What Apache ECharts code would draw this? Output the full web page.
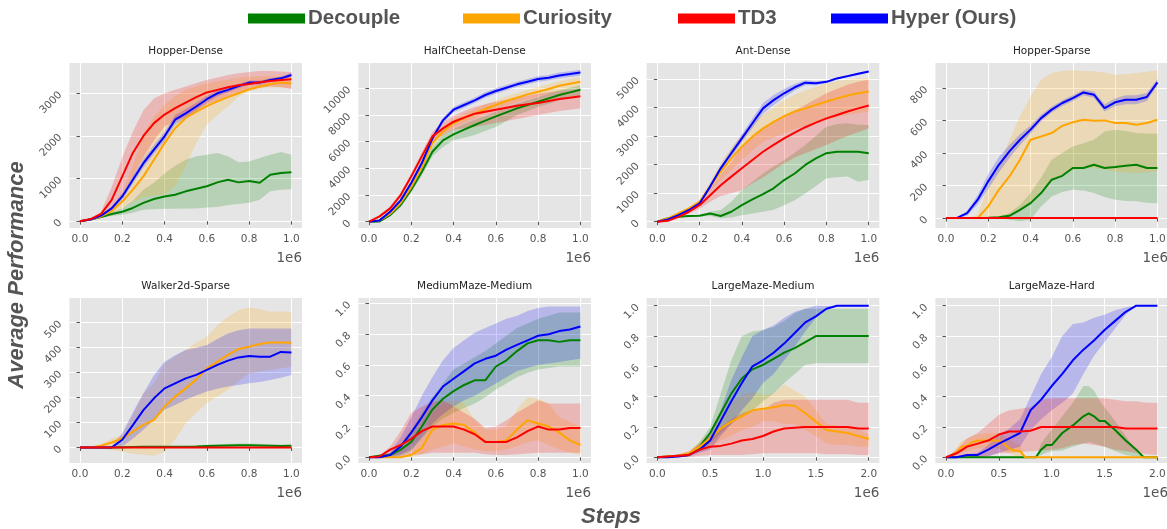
<!DOCTYPE html>
<html><head><meta charset="utf-8">
<script src="https://cdn.jsdelivr.net/npm/echarts@6/dist/echarts.min.js"></script>
<style>html,body{margin:0;padding:0;background:#fff}#c{width:1167px;height:529px}</style>
</head><body><div id="c"></div>
<script>
// ---------------- DATA ----------------
const methods = ['Decouple', 'Curiosity', 'TD3', 'Hyper (Ours)'];
const panelTitles = ['Hopper-Dense', 'HalfCheetah-Dense', 'Ant-Dense', 'Hopper-Sparse',
                     'Walker2d-Sparse', 'MediumMaze-Medium', 'LargeMaze-Medium', 'LargeMaze-Hard'];
const steps1M = [0,0.05,0.1,0.15,0.2,0.25,0.3,0.35,0.4,0.45,0.5,0.55,0.6,0.65,0.7,0.75,0.8,0.85,0.9,0.95,1.0];
const steps2M = [0,0.1,0.2,0.3,0.4,0.5,0.6,0.7,0.8,0.9,1.0,1.1,1.2,1.3,1.4,1.5,1.6,1.7,1.8,1.9,2.0];
const xTicks1M = [0, 0.2, 0.4, 0.6, 0.8, 1.0];
const xTicks2M = [0, 0.5, 1.0, 1.5, 2.0];
const yTicksHopperDense = [0, 1000, 2000, 3000];
const yTicksHalfCheetah = [0, 2000, 4000, 6000, 8000, 10000];
const yTicksAnt = [0, 1000, 2000, 3000, 4000, 5000];
const yTicksHopperSparse = [0, 200, 400, 600, 800];
const yTicksWalker = [0, 100, 200, 300, 400, 500];
const yTicksMaze = [0, 0.2, 0.4, 0.6, 0.8, 1.0];

// Hopper-Dense
const hdDec   = [0,40,100,170,220,310,430,520,580,620,700,760,820,910,970,910,940,900,1090,1130,1150];
const hdDecLo = [0,30,80,120,150,200,270,280,290,290,300,300,320,330,380,400,430,500,700,740,750];
const hdDecHi = [0,50,120,220,300,480,740,900,1120,1300,1440,1520,1560,1600,1520,1380,1400,1480,1560,1620,1560];
const hdCur   = [0,40,110,240,460,740,1050,1440,1830,2180,2420,2570,2700,2810,2910,3000,3090,3160,3210,3250,3230];
const hdCurLo = [0,30,90,180,300,450,560,600,620,820,1290,1830,2260,2490,2690,2920,3050,3120,3140,3130,3120];
const hdCurHi = [0,50,130,300,700,1300,2060,2450,2730,2930,3080,3160,3230,3280,3320,3360,3390,3400,3400,3400,3390];
const hdTd3   = [0,50,170,500,1050,1600,2000,2300,2500,2650,2780,2910,3020,3080,3140,3190,3220,3260,3290,3310,3330];
const hdTd3Lo = [0,40,120,300,650,1050,1500,1900,2220,2350,2450,2600,2730,2830,2920,3000,3080,3130,3160,3150,3100];
const hdTd3Hi = [0,60,220,800,1500,2100,2600,2880,3000,3080,3160,3240,3310,3370,3430,3470,3500,3520,3520,3510,3500];
const hdHyp   = [0,40,130,300,580,970,1360,1680,1990,2380,2530,2690,2860,3000,3080,3170,3250,3250,3310,3350,3430];
const hdHypLo = [0,30,110,250,500,880,1260,1580,1880,2270,2430,2600,2780,2930,3020,3120,3200,3200,3270,3310,3380];
const hdHypHi = [0,50,150,350,660,1060,1460,1780,2100,2490,2630,2780,2940,3070,3140,3220,3300,3300,3350,3390,3480];

// HalfCheetah-Dense
const hcDec   = [0,20,500,1250,2400,3750,5250,6100,6550,6900,7250,7580,7900,8200,8500,8750,9000,9250,9500,9700,9900];
const hcDecLo = [0,10,400,1100,2200,3450,4900,5600,6100,6300,6500,6800,7100,7550,8000,8300,8600,8850,9100,9300,9500];
const hcDecHi = [0,30,600,1400,2600,4050,5600,6500,6950,7300,7650,7950,8250,8550,8850,9100,9350,9600,9850,10050,10250];
const hcCur   = [0,100,600,1400,2600,4100,5900,6750,7400,7750,8100,8450,8750,9050,9300,9550,9750,9950,10200,10350,10500];
const hcCurLo = [0,50,500,1250,2400,3850,5600,6450,7050,7400,7750,8100,8400,8700,8950,9200,9400,9600,9800,9950,10100];
const hcCurHi = [0,150,700,1550,2800,4350,6200,7100,7750,8100,8450,8800,9100,9400,9650,9900,10100,10300,10550,10700,10850];
const hcTd3   = [0,400,1000,2000,3400,4900,6400,7000,7500,7800,8100,8250,8400,8550,8700,8800,8900,9050,9200,9300,9400];
const hcTd3Lo = [0,300,850,1800,3150,4600,6000,6500,6900,7000,7100,7250,7400,7550,7700,7850,8000,8150,8300,8400,8500];
const hcTd3Hi = [0,500,1150,2200,3650,5200,6750,7450,7950,8300,8600,8800,9000,9150,9300,9450,9600,9700,9800,9900,10000];
const hcHyp   = [0,100,750,1600,2900,4400,6250,7600,8400,8750,9100,9500,9800,10050,10300,10500,10700,10800,10970,11070,11180];
const hcHypLo = [0,50,650,1450,2700,4200,6050,7400,8200,8550,8900,9300,9600,9850,10100,10300,10500,10600,10750,10850,10950];
const hcHypHi = [0,150,850,1750,3100,4600,6450,7800,8600,8950,9300,9700,10000,10250,10500,10700,10900,11000,11180,11280,11400];

// Ant-Dense
const adDec   = [0,120,170,200,210,290,200,350,580,780,970,1170,1460,1690,1990,2220,2400,2450,2450,2450,2400];
const adDecLo = [0,100,150,170,180,200,120,150,230,290,350,420,580,750,990,1250,1520,1560,1580,1400,1460];
const adDecHi = [0,140,190,230,240,350,410,700,1100,1400,1690,1930,2160,2420,2690,3000,3330,3420,3450,3400,3390];
const adCur   = [0,120,290,470,700,1230,1750,2220,2630,2980,3270,3500,3700,3860,3970,4090,4210,4320,4420,4500,4560];
const adCurLo = [0,100,250,420,620,1050,1450,1800,2160,2500,2800,2950,3100,3250,3350,3460,3560,3660,3750,3800,3860];
const adCurHi = [0,140,330,520,780,1400,2050,2600,3050,3450,3750,4000,4260,4450,4600,4720,4850,4920,4980,5020,5020];
const adTd3   = [0,30,170,350,580,930,1280,1580,1870,2160,2450,2690,2920,3120,3310,3470,3620,3740,3860,3970,4070];
const adTd3Lo = [0,20,130,280,450,700,900,1000,1100,1350,1550,1800,2040,2250,2400,2550,2690,2850,3000,3130,3270];
const adTd3Hi = [0,40,210,420,700,1150,1650,2100,2630,2950,3250,3480,3680,3900,4100,4300,4500,4650,4800,4900,4970];
const adHyp   = [0,80,230,410,640,1230,1870,2400,2920,3450,3970,4260,4500,4710,4870,4850,4900,5020,5100,5180,5260];
const adHypLo = [0,60,200,370,590,1150,1770,2280,2780,3280,3780,4080,4350,4600,4780,4780,4850,4980,5060,5140,5220];
const adHypHi = [0,100,260,450,690,1310,1970,2520,3060,3620,4160,4440,4650,4820,4960,4920,4950,5060,5140,5220,5300];

// Hopper-Sparse
const hsDec   = [0,0,0,0,2,5,14,51,92,154,236,260,308,308,328,308,314,322,328,308,308];
const hsDecLo = [0,0,0,0,0,0,-10,-20,-10,72,133,160,174,170,154,130,113,105,103,95,92];
const hsDecHi = [0,0,0,0,5,10,31,80,154,250,359,400,441,460,482,533,544,535,523,520,519];
const hsCur   = [0,0,0,0,72,174,256,359,482,502,523,568,589,605,599,601,585,585,574,585,605];
const hsCurLo = [0,0,0,0,0,5,10,40,92,174,236,270,297,305,308,300,287,280,277,282,287];
const hsCurHi = [0,0,0,20,195,318,482,626,749,851,892,905,909,905,903,895,882,885,892,900,909];
const hsTd3   = [0,0,0,0,0,0,0,0,0,0,0,0,0,0,0,0,0,0,0,0,0];
const hsTd3Lo = [0,0,0,0,0,0,0,0,0,0,0,0,0,0,0,0,0,0,0,0,0];
const hsTd3Hi = [0,0,0,0,0,0,0,0,0,0,0,0,0,0,0,0,0,0,0,0,0];
const hsHyp   = [0,0,31,113,226,328,410,482,544,615,667,708,738,773,759,677,712,728,728,745,835];
const hsHypLo = [0,0,15,85,180,280,370,450,520,595,650,690,720,755,740,655,690,700,700,720,815];
const hsHypHi = [0,0,45,140,270,375,450,515,570,635,685,725,756,790,778,700,735,755,755,770,855];

// Walker2d-Sparse
const wsDec   = [0,0,0,0,1,2,3,3,3,3,3,4,6,7,8,9,9,8,7,6,7];
const wsDecLo = [0,0,0,0,0,0,0,0,0,0,0,0,0,0,0,0,0,0,0,0,0];
const wsDecHi = [0,0,0,0,3,5,6,6,6,6,6,8,11,13,15,16,16,15,13,11,12];
const wsCur   = [0,0,7,20,37,64,91,111,164,204,237,273,317,344,371,395,404,415,421,421,420];
const wsCurLo = [0,0,-5,-10,-16,-25,-29,-33,-16,31,97,140,177,205,231,265,297,305,311,318,324];
const wsCurHi = [0,0,15,35,51,130,217,257,337,365,391,420,444,490,524,550,561,555,544,545,544];
const wsTd3   = [0,0,0,0,0,0,0,0,0,0,0,0,0,0,0,0,0,0,0,0,0];
const wsTd3Lo = [0,0,0,0,0,0,0,0,0,0,0,0,0,0,0,0,0,0,0,0,0];
const wsTd3Hi = [0,0,0,0,0,0,0,0,0,0,0,0,0,0,0,0,0,0,0,0,0];
const wsHyp   = [0,0,0,0,31,90,150,197,237,257,277,291,311,331,348,361,367,364,364,383,381];
const wsHypLo = [0,0,0,0,4,35,71,110,151,170,191,208,224,235,244,250,257,262,271,280,291];
const wsHypHi = [0,0,0,5,57,140,217,290,344,370,391,400,411,435,457,470,477,477,477,477,477];

// MediumMaze-Medium
const mmDec   = [0,0.01,0.015,0.05,0.1,0.2,0.31,0.38,0.43,0.47,0.5,0.5,0.59,0.63,0.69,0.74,0.76,0.76,0.75,0.76,0.76];
const mmDecLo = [0,0,0,0.01,0.04,0.12,0.2,0.25,0.29,0.32,0.35,0.39,0.44,0.48,0.52,0.55,0.57,0.58,0.59,0.59,0.59];
const mmDecHi = [0,0.02,0.03,0.09,0.18,0.29,0.39,0.48,0.57,0.61,0.65,0.69,0.74,0.79,0.84,0.87,0.9,0.92,0.94,0.94,0.94];
const mmCur   = [0,0,0,0,0.015,0.06,0.18,0.21,0.22,0.21,0.16,0.1,0.1,0.11,0.18,0.24,0.22,0.2,0.16,0.11,0.08];
const mmCurLo = [0,0,0,0,0,0.02,0.05,0.07,0.09,0.07,0.05,0.04,0.04,0.05,0.07,0.1,0.11,0.08,0.05,0.03,0.015];
const mmCurHi = [0,0,0,0,0.03,0.12,0.29,0.35,0.37,0.35,0.24,0.18,0.18,0.2,0.31,0.39,0.38,0.35,0.26,0.23,0.2];
const mmTd3   = [0,0.005,0.05,0.08,0.12,0.17,0.2,0.2,0.2,0.18,0.15,0.1,0.1,0.1,0.13,0.17,0.2,0.18,0.18,0.19,0.19];
const mmTd3Lo = [0,0,0,0.005,0.015,0.02,0.03,0.03,0.03,0.03,0.03,0.02,0.015,0.015,0.02,0.025,0.03,0.03,0.03,0.03,0.03];
const mmTd3Hi = [0,0.01,0.07,0.17,0.29,0.33,0.36,0.37,0.33,0.29,0.25,0.19,0.2,0.24,0.29,0.33,0.37,0.35,0.35,0.35,0.35];
const mmHyp   = [0,0,0.015,0.07,0.16,0.26,0.37,0.46,0.51,0.56,0.61,0.64,0.66,0.7,0.73,0.76,0.79,0.8,0.82,0.83,0.85];
const mmHypLo = [0,0,0.005,0.02,0.05,0.13,0.22,0.28,0.33,0.37,0.4,0.44,0.48,0.52,0.56,0.58,0.6,0.61,0.62,0.63,0.64];
const mmHypHi = [0,0,0.03,0.13,0.26,0.4,0.52,0.63,0.71,0.76,0.81,0.84,0.87,0.9,0.92,0.95,0.97,0.98,0.98,0.98,0.98];

// LargeMaze-Medium
const lmDec   = [0,0.005,0.01,0.015,0.07,0.16,0.29,0.42,0.52,0.58,0.61,0.65,0.69,0.72,0.76,0.8,0.8,0.8,0.8,0.8,0.8];
const lmDecLo = [0,0,0.005,0.01,0.04,0.09,0.16,0.22,0.27,0.31,0.37,0.42,0.49,0.55,0.61,0.62,0.62,0.62,0.62,0.62,0.62];
const lmDecHi = [0,0.01,0.015,0.025,0.1,0.2,0.42,0.64,0.8,0.83,0.84,0.86,0.9,0.95,0.98,0.98,0.98,0.98,0.98,0.98,0.98];
const lmCur   = [0,0.005,0.01,0.026,0.07,0.125,0.19,0.235,0.27,0.31,0.32,0.33,0.345,0.34,0.29,0.235,0.18,0.17,0.16,0.14,0.12];
const lmCurLo = [0,0,0.005,0.015,0.04,0.06,0.11,0.14,0.18,0.2,0.24,0.24,0.22,0.22,0.18,0.14,0.09,0.08,0.08,0.07,0.07];
const lmCurHi = [0,0.01,0.015,0.04,0.1,0.16,0.27,0.36,0.41,0.43,0.41,0.42,0.48,0.44,0.4,0.31,0.22,0.21,0.2,0.18,0.15];
const lmTd3   = [0,0.005,0.01,0.015,0.05,0.07,0.075,0.09,0.11,0.12,0.14,0.17,0.19,0.195,0.2,0.2,0.2,0.2,0.2,0.19,0.19];
const lmTd3Lo = [0,0,0,0,0.01,0.015,0.015,0.015,0.015,0.02,0.026,0.026,0.026,0.026,0.026,0.026,0.02,0.02,0.02,0.015,0.015];
const lmTd3Hi = [0,0.01,0.02,0.04,0.09,0.14,0.2,0.25,0.29,0.31,0.31,0.36,0.38,0.38,0.38,0.38,0.38,0.38,0.38,0.36,0.36];
const lmHyp   = [0,0,0.005,0.015,0.05,0.11,0.24,0.37,0.49,0.6,0.64,0.69,0.75,0.82,0.89,0.93,0.98,1,1,1,1];
const lmHypLo = [0,0,0,0.005,0.03,0.05,0.14,0.22,0.31,0.39,0.49,0.55,0.64,0.73,0.83,0.92,0.98,1,1,1,1];
const lmHypHi = [0,0,0.01,0.025,0.07,0.15,0.31,0.51,0.66,0.8,0.84,0.87,0.92,0.96,0.98,1,1,1,1,1,1];

// LargeMaze-Hard
const lhDecSteps = [0,0.4,0.85,0.9,0.95,1.0,1.1,1.2,1.3,1.35,1.4,1.45,1.5,1.6,1.7,1.8,1.87,2.0];
const lhDec   = [0,0,0,0.05,0.08,0.08,0.16,0.21,0.27,0.29,0.27,0.24,0.24,0.18,0.11,0.05,0,0];
const lhDecLo = [0,0,0,0.015,0.03,0.04,0.045,0.07,0.09,0.1,0.09,0.08,0.07,0.04,0.015,0.005,0,0];
const lhDecHi = [0,0,0,0.09,0.14,0.18,0.27,0.36,0.47,0.47,0.44,0.38,0.33,0.24,0.14,0.05,0,0];
const lhCurSteps = [0,0.05,0.1,0.15,0.2,0.25,0.3,0.4,0.5,0.55,0.6,0.65,0.7,0.75,0.8,2.0];
const lhCur   = [0,0.01,0.035,0.07,0.075,0.1,0.11,0.11,0.11,0.09,0.055,0.045,0.04,0,0,0];
const lhCurLo = [0,0,0.01,0.03,0.04,0.05,0.06,0.06,0.06,0.04,0.026,0.01,0.005,0,0,0];
const lhCurHi = [0,0.02,0.06,0.11,0.12,0.14,0.15,0.16,0.16,0.14,0.12,0.09,0.08,0,0,0];
const lhTd3   = [0,0.026,0.07,0.09,0.11,0.15,0.17,0.17,0.175,0.2,0.2,0.2,0.2,0.2,0.2,0.2,0.2,0.19,0.19,0.19,0.19];
const lhTd3Lo = [0,0,0,0,0.01,0.026,0.03,0.035,0.04,0.045,0.05,0.06,0.08,0.09,0.08,0.07,0.05,0.04,0.03,0.02,0.015];
const lhTd3Hi = [0,0.05,0.125,0.16,0.22,0.28,0.31,0.32,0.33,0.38,0.39,0.39,0.39,0.39,0.39,0.39,0.38,0.37,0.37,0.36,0.36];
const lhHyp   = [0,0,0.015,0.015,0.05,0.09,0.125,0.16,0.31,0.38,0.47,0.55,0.64,0.71,0.77,0.84,0.9,0.96,1,1,1];
const lhHypLo = [0,0,0,0,0.005,0.03,0.05,0.07,0.18,0.25,0.31,0.36,0.42,0.55,0.67,0.76,0.85,0.94,1,1,1];
const lhHypHi = [0,0,0.02,0.03,0.08,0.15,0.19,0.25,0.4,0.55,0.66,0.8,0.88,0.89,0.92,0.94,0.97,0.99,1,1,1];

// ---------------- STYLE / LAYOUT ----------------
const lineColors = ['#008000', '#FFA500', '#FF0000', '#0000FF'];
const bandColors = ['rgba(0,128,0,0.2)', 'rgba(255,165,0,0.2)', 'rgba(255,0,0,0.2)', 'rgba(0,0,255,0.2)'];
const drawOrder = [0, 1, 3, 2];
const colLeft = [69.4, 358.4, 646.7, 935.4];
const rowTop = [63, 298];
const gridW = 232.6, gridH = 165;
const legendLeft = [248, 463, 678, 831];

function S(x, m, lo, hi) { return { x: x, m: m, lo: lo, hi: hi }; }

const panels = [
  { x: xTicks1M, xr: [-0.05, 1.05], yt: yTicksHopperDense, yr: [-160, 3710], dec: 0,
    s: [S(steps1M, hdDec, hdDecLo, hdDecHi), S(steps1M, hdCur, hdCurLo, hdCurHi), S(steps1M, hdTd3, hdTd3Lo, hdTd3Hi), S(steps1M, hdHyp, hdHypLo, hdHypHi)] },
  { x: xTicks1M, xr: [-0.05, 1.05], yt: yTicksHalfCheetah, yr: [-470, 11900], dec: 0,
    s: [S(steps1M, hcDec, hcDecLo, hcDecHi), S(steps1M, hcCur, hcCurLo, hcCurHi), S(steps1M, hcTd3, hcTd3Lo, hcTd3Hi), S(steps1M, hcHyp, hcHypLo, hcHypHi)] },
  { x: xTicks1M, xr: [-0.05, 1.05], yt: yTicksAnt, yr: [-220, 5560], dec: 0,
    s: [S(steps1M, adDec, adDecLo, adDecHi), S(steps1M, adCur, adCurLo, adCurHi), S(steps1M, adTd3, adTd3Lo, adTd3Hi), S(steps1M, adHyp, adHypLo, adHypHi)] },
  { x: xTicks1M, xr: [-0.05, 1.05], yt: yTicksHopperSparse, yr: [-61, 954], dec: 0,
    s: [S(steps1M, hsDec, hsDecLo, hsDecHi), S(steps1M, hsCur, hsCurLo, hsCurHi), S(steps1M, hsTd3, hsTd3Lo, hsTd3Hi), S(steps1M, hsHyp, hsHypLo, hsHypHi)] },
  { x: xTicks1M, xr: [-0.05, 1.05], yt: yTicksWalker, yr: [-62, 599], dec: 0,
    s: [S(steps1M, wsDec, wsDecLo, wsDecHi), S(steps1M, wsCur, wsCurLo, wsCurHi), S(steps1M, wsTd3, wsTd3Lo, wsTd3Hi), S(steps1M, wsHyp, wsHypLo, wsHypHi)] },
  { x: xTicks1M, xr: [-0.05, 1.05], yt: yTicksMaze, yr: [-0.037, 1.035], dec: 1,
    s: [S(steps1M, mmDec, mmDecLo, mmDecHi), S(steps1M, mmCur, mmCurLo, mmCurHi), S(steps1M, mmTd3, mmTd3Lo, mmTd3Hi), S(steps1M, mmHyp, mmHypLo, mmHypHi)] },
  { x: xTicks2M, xr: [-0.1, 2.1], yt: yTicksMaze, yr: [-0.038, 1.051], dec: 1,
    s: [S(steps2M, lmDec, lmDecLo, lmDecHi), S(steps2M, lmCur, lmCurLo, lmCurHi), S(steps2M, lmTd3, lmTd3Lo, lmTd3Hi), S(steps2M, lmHyp, lmHypLo, lmHypHi)] },
  { x: xTicks2M, xr: [-0.1, 2.1], yt: yTicksMaze, yr: [-0.038, 1.051], dec: 1,
    s: [S(lhDecSteps, lhDec, lhDecLo, lhDecHi), S(lhCurSteps, lhCur, lhCurLo, lhCurHi), S(steps2M, lhTd3, lhTd3Lo, lhTd3Hi), S(steps2M, lhHyp, lhHypLo, lhHypHi)] }
];

const tickFont = 'DejaVu Sans';
const grids = [], xAxes = [], yAxes = [], bands = [], lines = [], graphics = [];

panels.forEach(function (p, i) {
  const L = colLeft[i % 4], T = rowTop[Math.floor(i / 4)];
  grids.push({ left: L, top: T, width: gridW, height: gridH, show: true, backgroundColor: '#E5E5E5',
               borderWidth: 0, containLabel: false, outerBoundsMode: 'none' });
  xAxes.push({
    type: 'value', gridIndex: i, min: p.xr[0], max: p.xr[1],
    axisLine: { show: false },
    axisTick: { show: true, length: 3.5, lineStyle: { color: '#555', width: 1 }, customValues: p.x },
    axisLabel: { customValues: p.x, formatter: function (v) { return v.toFixed(1); }, color: '#555',
                 fontFamily: tickFont, fontSize: 10.5, margin: 6 },
    splitLine: { show: true, lineStyle: { color: '#fff', width: 1 } }
  });
  yAxes.push({
    type: 'value', gridIndex: i, min: p.yr[0], max: p.yr[1],
    axisLine: { show: false },
    axisTick: { show: true, length: 3.5, lineStyle: { color: '#555', width: 1 }, customValues: p.yt },
    axisLabel: { customValues: p.yt, rotate: 45, formatter: function (v) { return p.dec ? v.toFixed(1) : String(v); },
                 color: '#555', fontFamily: tickFont, fontSize: 10.5, margin: 9 },
    splitLine: { show: true, lineStyle: { color: '#fff', width: 1 } }
  });
  drawOrder.forEach(function (ci) {
    const s = p.s[ci];
    bands.push({
      type: 'custom', name: methods[ci] + ' band', xAxisIndex: i, yAxisIndex: i, silent: true, z: 1,
      clip: true, data: [[s.x[0], s.lo[0]]],
      renderItem: function (params, api) {
        const pts = [];
        for (let k = 0; k < s.x.length; k++) pts.push(api.coord([s.x[k], s.hi[k]]));
        for (let k = s.x.length - 1; k >= 0; k--) pts.push(api.coord([s.x[k], s.lo[k]]));
        return { type: 'polygon', shape: { points: pts }, style: { fill: bandColors[ci], stroke: null } };
      }
    });
    lines.push({
      type: 'line', name: methods[ci], xAxisIndex: i, yAxisIndex: i, z: 3, silent: true,
      data: s.x.map(function (xv, k) { return [xv, s.m[k]]; }),
      showSymbol: false, symbol: 'none', color: lineColors[ci],
      lineStyle: { width: 2, color: lineColors[ci] }, emphasis: { disabled: true }
    });
  });
  graphics.push({ type: 'text', x: L + gridW / 2, y: T - 12,
    style: { text: panelTitles[i], fill: '#222', font: '10.5px "DejaVu Sans"',
             textAlign: 'center', textVerticalAlign: 'middle', align: 'center', verticalAlign: 'middle' } });
  graphics.push({ type: 'text', x: L + gridW, y: T + gridH + 30,
    style: { text: '1e6', fill: '#555', font: '13.5px "DejaVu Sans"',
             textAlign: 'right', textVerticalAlign: 'middle', align: 'right', verticalAlign: 'middle' } });
});

graphics.push({ type: 'text', x: 17, y: 275, rotation: Math.PI / 2,
  style: { text: 'Average Performance', fill: '#555', font: 'italic bold 22px "Liberation Sans"',
           textAlign: 'center', textVerticalAlign: 'middle', align: 'center', verticalAlign: 'middle' } });
graphics.push({ type: 'text', x: 611, y: 517,
  style: { text: 'Steps', fill: '#555', font: 'italic bold 22px "Liberation Sans"',
           textAlign: 'center', textVerticalAlign: 'middle', align: 'center', verticalAlign: 'middle' } });

const legends = methods.map(function (m, i) {
  return { data: [m], left: legendLeft[i], top: 8, icon: 'rect', itemWidth: 57, itemHeight: 10, itemGap: 0,
           selectedMode: false, padding: 0,
           textStyle: { fontFamily: 'Liberation Sans', fontWeight: 'bold', fontSize: 20.5, color: '#555', padding: [0, 0, 0, -2] } };
});

const chart = echarts.init(document.getElementById('c'), null, { renderer: 'canvas' });
chart.setOption({
  animation: false,
  backgroundColor: '#ffffff',
  grid: grids, xAxis: xAxes, yAxis: yAxes,
  legend: legends,
  series: bands.concat(lines),
  graphic: { elements: graphics }
});
</script></body></html>
